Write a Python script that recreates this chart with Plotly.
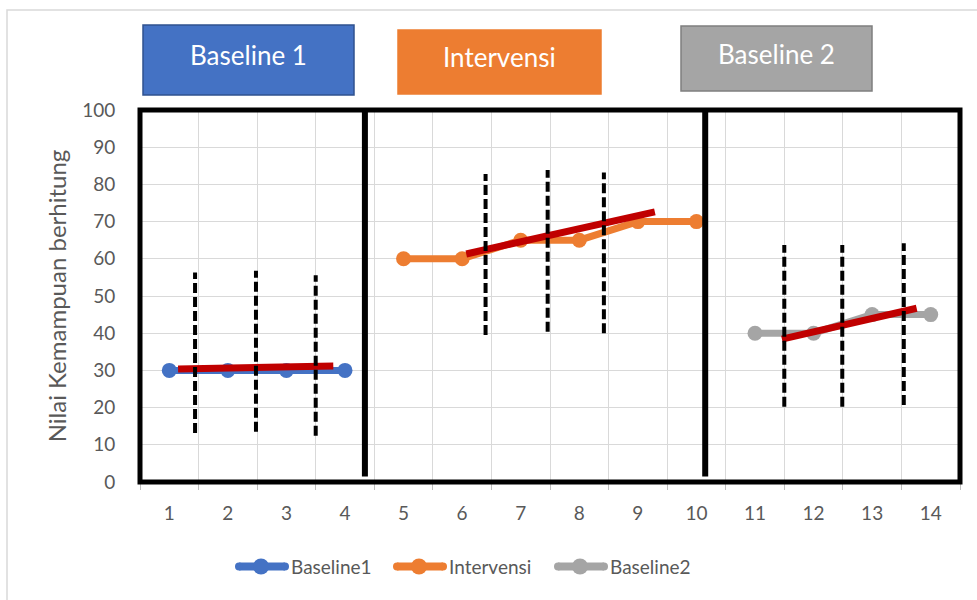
import plotly.graph_objects as go

# Sessions and scores per phase
baseline1_x = [1, 2, 3, 4]
baseline1_y = [30, 30, 30, 30]
intervensi_x = [5, 6, 7, 8, 9, 10]
intervensi_y = [60, 60, 65, 65, 70, 70]
baseline2_x = [11, 12, 13, 14]
baseline2_y = [40, 40, 45, 45]

# Trend lines (start/end session, start/end score) per phase
trend_b1_x = [1.15, 3.80]
trend_b1_y = [30.4, 31.2]
trend_int_x = [6.07, 9.29]
trend_int_y = [61.3, 72.6]
trend_b2_x = [11.46, 13.76]
trend_b2_y = [38.4, 46.7]

# Stability band markers: session position, lower and upper score
band_x = [1.44, 2.48, 3.50, 6.40, 7.46, 8.42, 11.50, 12.49, 13.54]
band_low = [13.2, 13.5, 12.4, 39.5, 40.4, 40.0, 20.2, 20.2, 20.7]
band_high = [56.3, 56.8, 55.6, 82.8, 83.9, 83.2, 63.7, 63.7, 64.2]

# Phase change lines (session position)
phase_change_x = [4.34, 10.15]

x_ticks = list(range(1, 15))
y_title = "Nilai Kemampuan berhitung"

FONT = "Lato"
GRAY_TXT = "#595959"

# Plot area in pixels
L, R, T, B = 140, 960, 110, 482
W, H = 977, 600


def px_x(p):
    return (p - L) / (R - L)


def px_y(p):
    return (B - p) / (B - T)


fig = go.Figure()

series = [
    ("Baseline1", baseline1_x, baseline1_y, "#4472C4"),
    ("Intervensi", intervensi_x, intervensi_y, "#ED7D31"),
    ("Baseline2", baseline2_x, baseline2_y, "#A5A5A5"),
]
for name, xs, ys, col in series:
    fig.add_trace(go.Scatter(
        x=xs, y=ys, name=name, mode="lines+markers",
        line=dict(color=col, width=7),
        marker=dict(color=col, size=15),
        cliponaxis=False, showlegend=False,
    ))

for tx, ty in [(trend_b1_x, trend_b1_y), (trend_int_x, trend_int_y), (trend_b2_x, trend_b2_y)]:
    fig.add_trace(go.Scatter(
        x=tx, y=ty, mode="lines", showlegend=False, hoverinfo="skip",
        line=dict(color="#C00000", width=7),
    ))

for bx, lo, hi in zip(band_x, band_low, band_high):
    fig.add_trace(go.Scatter(
        x=[bx, bx], y=[lo, hi], mode="lines", showlegend=False, hoverinfo="skip",
        line=dict(color="black", width=4, dash="10px,4px"),
    ))

shapes = []
annotations = []
# Outer chart frame
shapes.append(dict(type="rect", xref="paper", yref="paper",
                   x0=px_x(7), x1=px_x(990), y0=px_y(620), y1=px_y(10),
                   line=dict(color="#D9D9D9", width=1.5), layer="below"))
# Black frame round the plot area
shapes.append(dict(type="rect", xref="paper", yref="paper", x0=0, x1=1, y0=0, y1=1,
                   line=dict(color="black", width=5)))
for px in phase_change_x:
    shapes.append(dict(type="line", xref="x", yref="y", x0=px, x1=px, y0=1.5, y1=100,
                       line=dict(color="black", width=6)))

# Phase header boxes
headers = [
    ("Baseline 1", 143, 354, 25, 95, "#4472C4", "#2F528F"),
    ("Intervensi", 398, 601, 30, 94, "#ED7D31", "#ED7D31"),
    ("Baseline 2", 681, 872, 26, 91, "#A5A5A5", "#7F7F7F"),
]
for text, x0, x1, y0, y1, fill, edge in headers:
    shapes.append(dict(type="rect", xref="paper", yref="paper",
                       x0=px_x(x0), x1=px_x(x1), y0=px_y(y1), y1=px_y(y0),
                       fillcolor=fill, line=dict(color=edge, width=1.5)))
    annotations.append(dict(xref="paper", yref="paper",
                            x=px_x((x0 + x1) / 2), y=px_y((y0 + y1) / 2 - 5),
                            text=text, showarrow=False,
                            font=dict(family=FONT, size=26, color="white"),
                            xanchor="center", yanchor="middle"))

# Legend row: line sample with a marker, then the series name
legend_items = [("Baseline1", "#4472C4", 236), ("Intervensi", "#ED7D31", 394),
                ("Baseline2", "#A5A5A5", 555)]
LEG_Y = 566.5
for name, col, lx in legend_items:
    shapes.append(dict(type="line", xref="paper", yref="paper",
                       x0=px_x(lx + 3), x1=px_x(lx + 49), y0=px_y(LEG_Y), y1=px_y(LEG_Y),
                       line=dict(color=col, width=8)))
    shapes.append(dict(type="circle", xref="paper", yref="paper",
                       x0=px_x(lx + 17), x1=px_x(lx + 33),
                       y0=px_y(LEG_Y + 8), y1=px_y(LEG_Y - 8),
                       fillcolor=col, line=dict(color=col, width=0)))
    shapes.append(dict(type="circle", xref="paper", yref="paper",
                       x0=px_x(lx - 1), x1=px_x(lx + 7),
                       y0=px_y(LEG_Y + 4), y1=px_y(LEG_Y - 4),
                       fillcolor=col, line=dict(color=col, width=0)))
    shapes.append(dict(type="circle", xref="paper", yref="paper",
                       x0=px_x(lx + 45), x1=px_x(lx + 53),
                       y0=px_y(LEG_Y + 4), y1=px_y(LEG_Y - 4),
                       fillcolor=col, line=dict(color=col, width=0)))
    annotations.append(dict(xref="paper", yref="paper", x=px_x(lx + 53), y=px_y(LEG_Y),
                            text=name, showarrow=False, xanchor="left", yanchor="middle",
                            font=dict(family=FONT, size=19, color=GRAY_TXT)))

fig.update_layout(
    width=W, height=H,
    margin=dict(l=L, r=W - R, t=T, b=H - B),
    paper_bgcolor="white", plot_bgcolor="white",
    font=dict(family=FONT, color=GRAY_TXT),
    shapes=shapes, annotations=annotations,
    showlegend=False,
    xaxis=dict(
        range=[0.5, 14.5], tickmode="array", tickvals=x_ticks,
        ticktext=[str(v) for v in x_ticks],
        ticks="outside", ticklen=14, tickcolor="rgba(0,0,0,0)",
        showgrid=False, zeroline=False,
        showline=True, linecolor="#BFBFBF", linewidth=1,
        tickfont=dict(family=FONT, size=19, color=GRAY_TXT),
        minor=dict(tickmode="array", tickvals=[v + 0.5 for v in range(0, 15)],
                   ticks="outside", ticklen=7, tickcolor="#BFBFBF",
                   showgrid=True, gridcolor="#D9D9D9", gridwidth=1),
    ),
    yaxis=dict(
        range=[0, 100], dtick=10, tick0=0,
        ticks="outside", ticklen=20, tickcolor="rgba(0,0,0,0)",
        showgrid=True, gridcolor="#D9D9D9", gridwidth=1, zeroline=False,
        tickfont=dict(family=FONT, size=19, color=GRAY_TXT),
        title=dict(text=y_title, font=dict(family=FONT, size=24, color=GRAY_TXT),
                   standoff=8),
    ),
)

fig.write_html("out.html")
